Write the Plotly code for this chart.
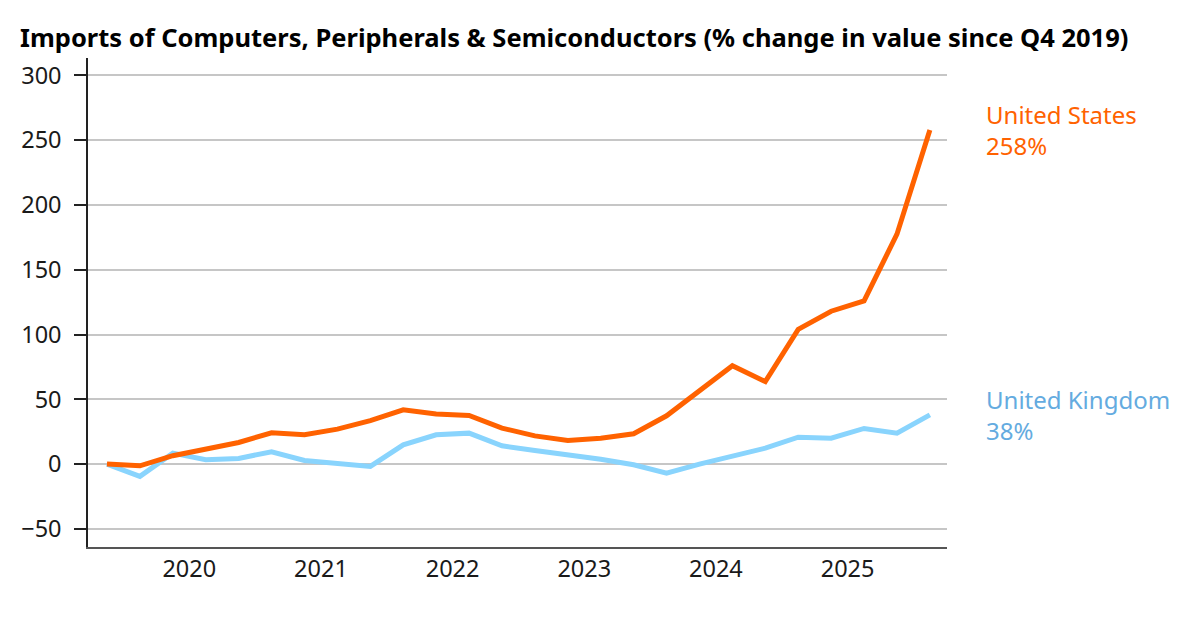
import plotly.graph_objects as go

# Quarterly data (Q4 2019 = index 0), % change in value since Q4 2019
quarters = ["Q4 2019",
            "Q1 2020", "Q2 2020", "Q3 2020", "Q4 2020",
            "Q1 2021", "Q2 2021", "Q3 2021", "Q4 2021",
            "Q1 2022", "Q2 2022", "Q3 2022", "Q4 2022",
            "Q1 2023", "Q2 2023", "Q3 2023", "Q4 2023",
            "Q1 2024", "Q2 2024", "Q3 2024", "Q4 2024",
            "Q1 2025", "Q2 2025", "Q3 2025", "Q4 2025",
            "Q1 2026"]
united_states = [0, -1.3, 6.5, 11.6, 16.7, 24.2, 22.6, 27, 33.6, 41.9, 38.6, 37.5,
                 27.8, 21.8, 18.2, 20, 23.4, 37.3, 56.8, 76, 63.7, 104, 118, 126,
                 177.5, 258]
united_kingdom = [0, -9.5, 8.5, 3.3, 4.4, 9.5, 2.8, 0.8, -1.8, 14.9, 22.6, 23.9,
                  14.1, 10.5, 7.5, 3.8, -0.5, -7, 0, 6.5, 12.3, 20.8, 20, 27.5,
                  23.9, 38]
year_labels = ["2020", "2021", "2022", "2023", "2024", "2025"]
y_ticks = [-50, 0, 50, 100, 150, 200, 250, 300]

ORANGE = "#FF6200"
BLUE = "#89D4FD"
BLUE_TEXT = "#64ABE0"
FONT = "Noto Sans"

x_idx = list(range(len(quarters)))
# each year label centred under its four quarters
year_pos = [quarters.index("Q1 " + y) + 1.5 for y in year_labels]

fig = go.Figure()
fig.add_trace(go.Scatter(x=x_idx, y=united_kingdom, mode="lines", name="United Kingdom",
                         line=dict(color=BLUE, width=5), customdata=quarters,
                         hovertemplate="%{customdata}: %{y}%<extra></extra>"))
fig.add_trace(go.Scatter(x=x_idx, y=united_states, mode="lines", name="United States",
                         line=dict(color=ORANGE, width=5), customdata=quarters,
                         hovertemplate="%{customdata}: %{y}%<extra></extra>"))

fig.update_layout(
    width=1200, height=617,
    margin=dict(l=88, r=253, t=58, b=70),
    paper_bgcolor="white", plot_bgcolor="white",
    showlegend=False,
    font=dict(family=FONT, size=23, color="#1a1a1a"),
    title=dict(text="<b>Imports of Computers, Peripherals & Semiconductors (% change in value since Q4 2019)</b>",
               x=20/1200, xanchor="left", xref="container", y=1 - 38/617, yanchor="middle", yref="container",
               font=dict(family=FONT, size=25.5, color="#000000")),
    xaxis=dict(range=[-0.577, 25.52], tickmode="array", tickvals=year_pos, ticktext=year_labels,
               showgrid=False, zeroline=False, showline=True, linecolor="#555555", linewidth=2,
               ticks="", ticklabelstandoff=0, tickfont=dict(size=23.5, color="#1a1a1a")),
    yaxis=dict(range=[-64, 313.5], tickmode="array", tickvals=y_ticks,
               showgrid=True, gridcolor="#c6c6c6", gridwidth=1.5, zeroline=False,
               showline=True, linecolor="#222222", linewidth=1.5,
               ticks="outside", ticklen=12, tickcolor="#222222", tickwidth=1.5,
               ticklabelstandoff=8, tickfont=dict(size=23.5, color="#1a1a1a")),
)

label_x = 1 + (984 - 947) / (1200 - 88 - 253)
fig.add_annotation(x=label_x, xref="paper", y=united_states[-1], yref="y",
                   xanchor="left", yanchor="middle", align="left", showarrow=False,
                   text=f"United States<br>{united_states[-1]:.0f}%",
                   font=dict(family=FONT, size=24, color=ORANGE))
fig.add_annotation(x=label_x, xref="paper", y=united_kingdom[-1], yref="y",
                   xanchor="left", yanchor="middle", align="left", showarrow=False,
                   text=f"United Kingdom<br>{united_kingdom[-1]:.0f}%",
                   font=dict(family=FONT, size=24, color=BLUE_TEXT))

fig.write_html("out.html")
